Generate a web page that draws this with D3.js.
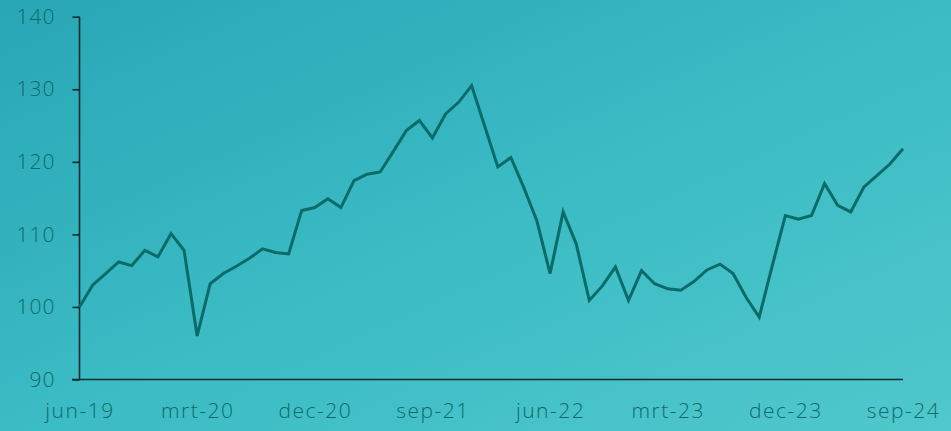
<!DOCTYPE html>
<html><head><meta charset="utf-8">
<script src="https://cdn.jsdelivr.net/npm/d3@7"></script>
<style>
html,body{margin:0;padding:0;overflow:hidden;}
svg{display:block;}
</style></head>
<body>
<script>
const months = ["jun","jul","aug","sep","okt","nov","dec","jan","feb","mrt","apr","mei"];
// 64 monthly observations, jun-19 .. sep-24
const values = [
100.0,103.0,104.6,106.2,105.7,107.8,106.9,110.1,107.8,96.0,
103.2,104.6,105.6,106.7,108.0,107.5,107.3,113.3,113.7,114.9,
113.7,117.4,118.3,118.6,121.4,124.3,125.7,123.3,126.6,128.2,
130.5,124.9,119.3,120.6,116.4,111.8,104.6,113.1,108.7,100.9,
102.9,105.5,100.9,105.0,103.2,102.5,102.3,103.5,105.1,105.9,
104.6,101.3,98.6,105.7,112.6,112.1,112.6,117.0,114.0,113.1,
116.5,118.1,119.7,121.8];
const labels = values.map((v,i)=>{
  const m = (i) % 12; const y = 19 + Math.floor((i+5)/12);
  return months[m] + "-" + y;
});
const xTickLabels = ["jun-19","mrt-20","dec-20","sep-21","jun-22","mrt-23","dec-23","sep-24"];
const yTicks = [90,100,110,120,130,140];

const W=951,H=431;
const svg = d3.select("body").append("svg").attr("width",W).attr("height",H);
const defs = svg.append("defs");
const g = defs.append("linearGradient").attr("id","bg").attr("x1","0").attr("y1","0").attr("x2","1").attr("y2","1");
g.append("stop").attr("offset","0").attr("stop-color","#28a6b6");
g.append("stop").attr("offset","0.5").attr("stop-color","#3bbbc4");
g.append("stop").attr("offset","1").attr("stop-color","#50c8cc");
svg.append("rect").attr("width",W).attr("height",H).attr("fill","url(#bg)");

const x = d3.scalePoint().domain(labels).range([79.5,903]);
const y = d3.scaleLinear().domain([90,140]).range([379.5,16.7]);

const txt = "#0d6a6a";
const font = "'Open Sans', sans-serif";

const yAxis = svg.append("g").attr("transform","translate(79.5,0)")
  .call(d3.axisLeft(y).tickValues(yTicks).tickSize(7).tickPadding(17).tickFormat(d3.format("d")));
yAxis.select(".domain").attr("stroke","#0b2b2d").attr("stroke-width",1.6).attr("d","M0,16.7V379.5");
yAxis.selectAll(".tick line").attr("stroke","#0b2b2d").attr("stroke-width",1.6);
yAxis.selectAll(".tick text").attr("fill",txt).attr("font-family",font).attr("font-size",21).attr("font-weight",300).attr("letter-spacing","1px");

const xAxis = svg.append("g").attr("transform","translate(0,379.5)")
  .call(d3.axisBottom(x).tickValues(xTickLabels).tickSize(0).tickPadding(24));
xAxis.select(".domain").attr("stroke","#0b2b2d").attr("stroke-width",1.6).attr("d","M72,0H903");
xAxis.selectAll(".tick text").attr("fill",txt).attr("font-family",font).attr("font-size",21).attr("font-weight",300).attr("letter-spacing","1.5px");

const line = d3.line().x((d,i)=>x(labels[i])).y(d=>y(d));
svg.append("path").datum(values).attr("d",line).attr("fill","none")
  .attr("stroke","#0b6b68").attr("stroke-width",3).attr("stroke-linejoin","miter");
</script>
</body></html>
